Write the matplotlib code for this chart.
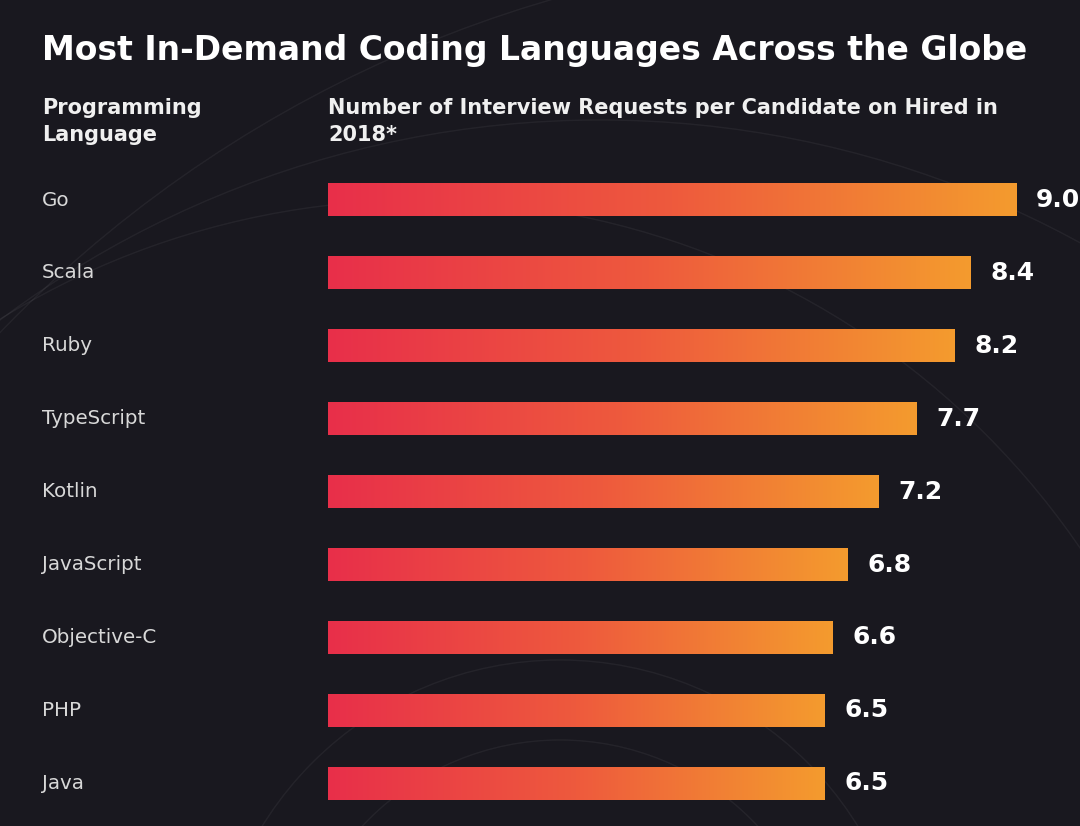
import numpy as np
import matplotlib
matplotlib.use("Agg")
import matplotlib.pyplot as plt
from matplotlib.colors import LinearSegmentedColormap
from matplotlib.patches import Circle

# 数据
LANGS  = ["Go", "Scala", "Ruby", "TypeScript", "Kotlin", "JavaScript",
          "Objective-C", "PHP", "Java"]
VALUES = [9.0, 8.4, 8.2, 7.7, 7.2, 6.8, 6.6, 6.5, 6.5]

TITLE   = "Most In-Demand Coding Languages Across the Globe"
HEAD_L  = "Programming\nLanguage"
HEAD_R  = "Number of Interview Requests per Candidate on Hired in\n2018*"

BG      = "#19181f"
GRAD    = LinearSegmentedColormap.from_list("bar", ["#e82f4a", "#ee5a3d", "#f49b2e"])

plt.rcParams["font.family"] = ["DejaVu Sans"]

W, H = 1080, 826
fig = plt.figure(figsize=(W / 100, H / 100), dpi=100, facecolor=BG)

# 背景装饰圆弧（像素坐标）
bg = fig.add_axes([0, 0, 1, 1])
bg.set_xlim(0, W); bg.set_ylim(H, 0); bg.axis("off")
bg.set_facecolor(BG)
for cx, cy, r in [(560, 1010, 350), (560, 1010, 270), (600, 1120, 1000),
                  (420, 1000, 800), (900, 1200, 1250)]:
    bg.add_patch(Circle((cx, cy), r, fill=False, ec="white", lw=1.0, alpha=0.05))

# 标题与表头（多行文本以最后一行基线对齐）
fig.text(42 / W, 1 - 60 / H, TITLE, color="white", fontsize=23.8,
         fontweight="bold", va="baseline")
fig.text(42 / W, 1 - 141 / H, HEAD_L, color="#f0f0f0", fontsize=15,
         fontweight="bold", va="baseline", linespacing=1.45,
         multialignment="left")
fig.text(328 / W, 1 - 141 / H, HEAD_R, color="#f0f0f0", fontsize=15,
         fontweight="bold", va="baseline", linespacing=1.45)

# 条形区：x 从 328px 开始，9.0 对应 688px
px_per_unit = 688 / 9.0
ax_left, ax_top = 328, 150
spacing = 72.9
ax = fig.add_axes([ax_left / W, 0, (W - ax_left) / W, (H - ax_top) / H])
ax.axis("off")
ax.patch.set_alpha(0)

bar_h = 33 / spacing
grad = np.linspace(0, 1, 256).reshape(1, -1)
for i, (lang, v) in enumerate(zip(LANGS, VALUES)):
    ax.imshow(grad, cmap=GRAD, aspect="auto", interpolation="bilinear",
              extent=(0, v, i + bar_h / 2, i - bar_h / 2))
    ax.text(v + 20 / px_per_unit, i, f"{v:.1f}", color="white", fontsize=18,
            fontweight="bold", va="center", ha="left", clip_on=False)
    fig.text(42 / W, 1 - (200 + i * spacing) / H, lang, color="#d8d8d8",
             fontsize=14.3, va="center", ha="left")

ax.set_xlim(0, (W - ax_left) / px_per_unit)
ax.set_ylim((H - 200) / spacing, -(200 - ax_top) / spacing)

fig.savefig("out.png", dpi=100, facecolor=BG)
